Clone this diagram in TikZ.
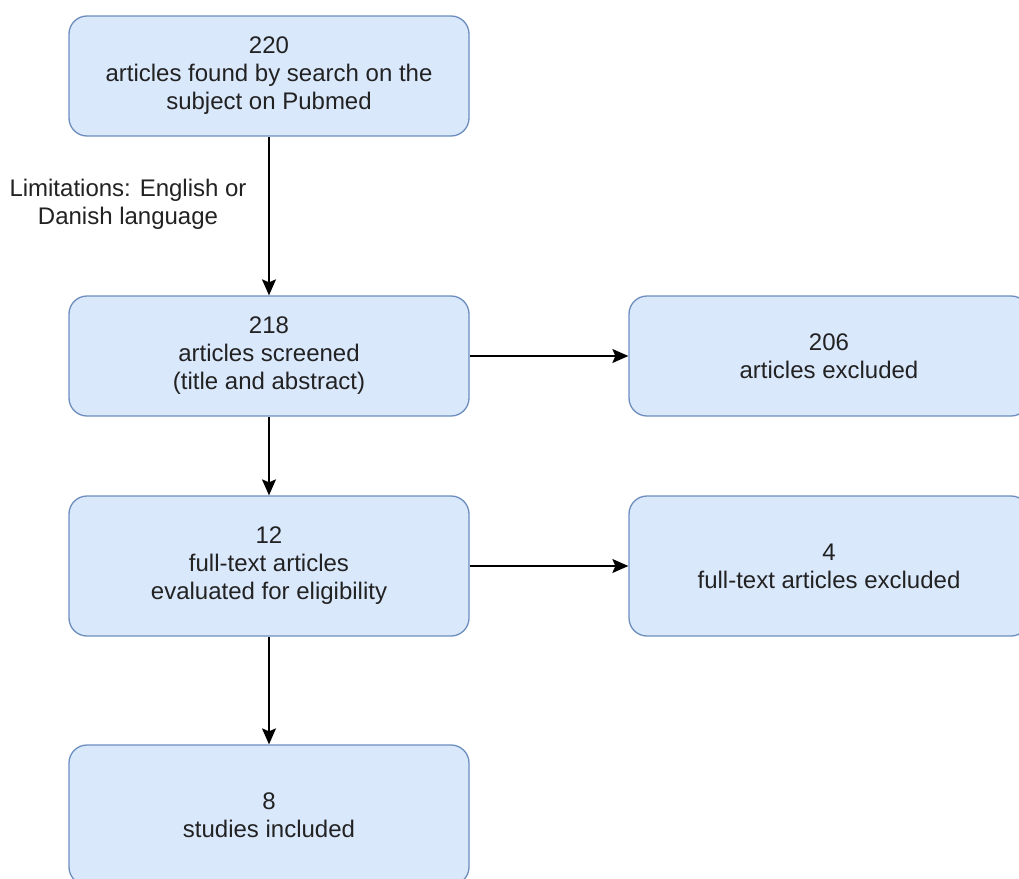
\documentclass[tikz,border=0pt]{standalone}
\usepackage{fontspec}
\setmainfont{Liberation Sans}
\usetikzlibrary{arrows.meta}
\definecolor{boxfill}{HTML}{DAE8FC}
\definecolor{boxline}{HTML}{6C8EBF}
\definecolor{txt}{HTML}{222222}
\tikzset{
  flowbox/.style={draw=boxline, fill=boxfill, line width=1.3pt, rounded corners=18pt,
    minimum width=400pt, inner sep=0pt, align=center, text=txt,
    font=\fontsize{24}{28}\selectfont},
  conn/.style={line width=1.5pt, -{Stealth[length=16pt,width=14pt,inset=3pt]}},
  lbl/.style={align=center, text=txt, font=\fontsize{24}{28}\selectfont, inner sep=0pt}
}
\begin{document}
\begin{tikzpicture}[x=1pt,y=-1pt]
\clip (0,0) rectangle (1019,878);
\fill[white] (0,0) rectangle (1019,878);
\node[flowbox, minimum height=120pt] (b1) at (269,76) {220\\articles found by search on the\\subject on Pubmed};
\node[flowbox, minimum height=120pt] (b2) at (269,356) {218\\articles screened\\(title and abstract)};
\node[flowbox, minimum height=120pt] (b3) at (829,356) {206\\articles excluded};
\node[flowbox, minimum height=140pt] (b4) at (269,566) {12\\full-text articles\\evaluated for eligibility};
\node[flowbox, minimum height=140pt] (b5) at (829,566) {4\\full-text articles excluded};
\node[flowbox, minimum height=140pt] (b6) at (269,815) {8\\studies included};
\node[lbl] (l1) at (128,204) {Limitations: English or\\Danish language};
\draw[conn] (b1) -- (b2);
\draw[conn] (b2) -- (b3);
\draw[conn] (b2) -- (b4);
\draw[conn] (b4) -- (b5);
\draw[conn] (b4) -- (b6);
\end{tikzpicture}
\end{document}
